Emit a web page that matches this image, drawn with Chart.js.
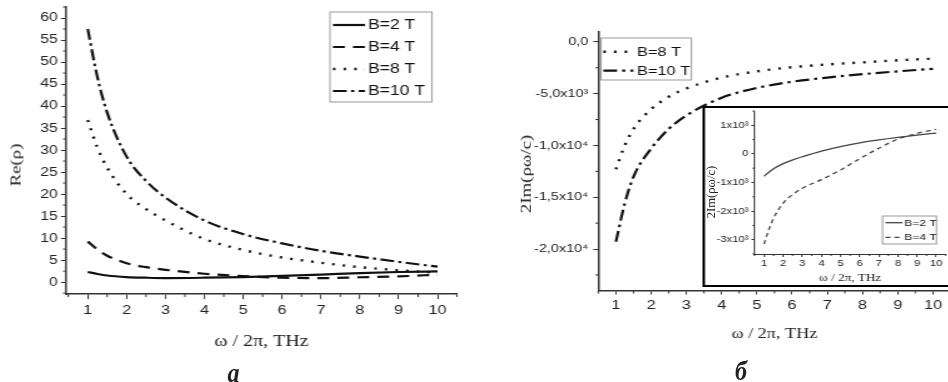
<!DOCTYPE html>
<html>
<head>
<meta charset="utf-8">
<title>Re(ρ), 2Im(ρω/c)</title>
<script src="https://cdn.jsdelivr.net/npm/chart.js@4.4.1/dist/chart.umd.min.js"></script>
<style>
  html, body { margin: 0; padding: 0; background: #fff; overflow: hidden; width: 948px; height: 382px; }
  #wrap { position: absolute; left: 0; top: 0; height: 382px; transform-origin: 0 0; }
  .box { position: absolute; }
  #inset { background: #fff; border: 2px solid #000; box-sizing: border-box; }
  .txt { position: absolute; white-space: nowrap; font-family: "Liberation Serif", "Times New Roman", serif; color: #222; line-height: 1; }
  .cap { font-weight: bold; font-style: italic; font-size: 24px; }
</style>
</head>
<body>
<div id="wrap">
  <div class="box" id="leftBox"><canvas id="leftChart"></canvas></div>
  <div class="box" id="rightBox"><canvas id="rightChart"></canvas></div>
  <div class="box" id="inset"><canvas id="insetChart"></canvas></div>
</div>
<div class="txt" id="yt1">Re(ρ)</div>
<div class="txt" id="yt2">2Im(ρω/c)</div>
<div class="txt" id="yt3">2Im(ρω/c)</div>
<div class="txt cap" id="capA">a</div>
<div class="txt cap" id="capB">б</div>

<script>
// the lettering in the figure is wide, so the charts are drawn narrower and stretched
const S = 1.25;
const X = v => v / S;

const freq = [1, 1.25, 1.5, 2, 2.5, 3, 4, 5, 6, 7, 8, 9, 10];

// panel a: Re(rho)
const reB2  = [2.3, 1.85, 1.5, 1.15, 1.0, 0.92, 1.0, 1.15, 1.4, 1.7, 2.05, 2.3, 2.45];
const reB4  = [9.2, 7.4, 6.0, 4.3, 3.4, 2.8, 1.9, 1.35, 1.0, 0.9, 1.1, 1.3, 1.7];
const reB8  = [36.8, 30.5, 26, 20, 16.6, 14, 9.8, 7.3, 5.6, 4.4, 3.4, 2.7, 2.1];
const reB10 = [57.5, 46.5, 38.5, 28.5, 23, 19.2, 14.0, 10.9, 8.8, 7.1, 5.8, 4.6, 3.5];

// panel b: 2Im(rho*omega/c)
const imB8  = [-12300, -10000, -8400, -6500, -5300, -4500, -3450, -2850, -2450, -2180, -1980, -1780, -1620];
const imB10 = [-19300, -15600, -13000, -10300, -8400, -7100, -5400, -4450, -3850, -3450, -3120, -2850, -2600];

// inset
const inB2 = [-780, -640, -520, -340, -210, -100, 100, 255, 385, 490, 580, 660, 730];
const inB4 = [-3150, -2650, -2250, -1720, -1420, -1200, -900, -560, -170, 200, 520, 720, 860];

// ticks
const xTicks  = [1, 2, 3, 4, 5, 6, 7, 8, 9, 10];
const xLabels = ['1', '2', '3', '4', '5', '6', '7', '8', '9', '10'];
const xMinor  = [0.5, 1.5, 2.5, 3.5, 4.5, 5.5, 6.5, 7.5, 8.5, 9.5, 10.5];
const reTicks  = [0, 5, 10, 15, 20, 25, 30, 35, 40, 45, 50, 55, 60];
const reLabels = ['0', '5', '10', '15', '20', '25', '30', '35', '40', '45', '50', '55', '60'];
const reMinor  = [-2.5, 2.5, 7.5, 12.5, 17.5, 22.5, 27.5, 32.5, 37.5, 42.5, 47.5, 52.5, 57.5, 62.5];
const imTicks  = [0, -5000, -10000, -15000, -20000];
const imLabels = ['0,0', '-5,0x10³', '-1,0x10⁴', '-1,5x10⁴', '-2,0x10⁴'];
const imMinor  = [-2500, -7500, -12500, -17500, -22500];
const inTicks  = [1000, 0, -1000, -2000, -3000];
const inLabels = ['1x10³', '0', '-1x10³', '-2x10³', '-3x10³'];
const inMinor  = [1500, 500, -500, -1500, -2500, -3500];

const xTitle = 'ω / 2π, THz';

// placing boxes (page px -> wrapper px)
function place(id, left, top, width, height) {
    const el = document.getElementById(id);
    el.style.left = X(left) + 'px';
    el.style.top = top + 'px';
    el.style.width = X(width) + 'px';
    el.style.height = height + 'px';
}
const wrap = document.getElementById('wrap');
wrap.style.width = X(960) + 'px';
wrap.style.transform = 'scaleX(' + S + ')';
place('leftBox', 0, 0, 480, 382);
place('rightBox', 480, 0, 472, 382);
place('inset', 703, 106, 250, 181);

function label(id, cx, cy, size, stretch, rotate) {
    const el = document.getElementById(id);
    el.style.left = cx + 'px';
    el.style.top = cy + 'px';
    el.style.fontSize = size + 'px';
    el.style.transform = 'translate(-50%,-50%)' + (rotate ? ' rotate(-90deg)' : '') + ' scale(' + stretch[0] + ',' + stretch[1] + ')';
}
label('yt1', 16, 165, 15, [1.25, 1], true);
label('yt2', 526, 174, 14.5, [1.3, 1], true);
label('yt3', 711.5, 192, 11.5, [1.1, 1], true);
label('capA', 233.5, 373, 24, [1, 1.15], false);
label('capB', 741, 371, 24, [1, 1.15], false);

Chart.defaults.animation = false;
Chart.defaults.font.family = '"Liberation Sans", Arial, sans-serif';
Chart.defaults.color = '#222';

// short ticks between the labelled ones
const minorTicks = {
    id: 'minorTicks',
    afterDraw(chart, args, o) {
        const ctx = chart.ctx;
        const sx = chart.scales.x, sy = chart.scales.y;
        ctx.save();
        ctx.strokeStyle = '#333';
        ctx.lineWidth = 1;
        ctx.beginPath();
        o.x.forEach(v => {
            if (v < sx.min || v > sx.max) return;
            const p = sx.getPixelForValue(v);
            ctx.moveTo(p, sx.top);
            ctx.lineTo(p, sx.top + o.xLen);
        });
        o.y.forEach(v => {
            if (v < sy.min || v > sy.max) return;
            const p = sy.getPixelForValue(v);
            ctx.moveTo(sy.right, p);
            ctx.lineTo(sy.right - X(o.yLen), p);
        });
        ctx.stroke();
        ctx.restore();
    }
};

// framed legend at a fixed spot (page px relative to the canvas)
const boxLegend = {
    id: 'boxLegend',
    afterDraw(chart, args, o) {
        const ctx = chart.ctx;
        ctx.save();
        ctx.fillStyle = '#fff';
        ctx.fillRect(X(o.box[0]), o.box[1], X(o.box[2] - o.box[0]), o.box[3] - o.box[1]);
        ctx.strokeStyle = o.border;
        ctx.lineWidth = 1;
        ctx.strokeRect(X(o.box[0]), o.box[1], X(o.box[2] - o.box[0]), o.box[3] - o.box[1]);
        chart.data.datasets.forEach((ds, i) => {
            const y = o.rows[i];
            ctx.strokeStyle = ds.borderColor;
            ctx.lineWidth = ds.borderWidth;
            ctx.setLineDash(ds.borderDash || []);
            ctx.beginPath();
            ctx.moveTo(X(o.line[0]), y);
            ctx.lineTo(X(o.line[1]), y);
            ctx.stroke();
            ctx.setLineDash([]);
            ctx.fillStyle = '#111';
            ctx.font = o.size + 'px "Liberation Sans", Arial, sans-serif';
            ctx.textBaseline = 'middle';
            ctx.fillText(ds.label, X(o.text), y + 0.5);
        });
        ctx.restore();
    }
};

function axis(o) {
    return {
        type: 'linear',
        min: o.min,
        max: o.max,
        grid: { display: true, drawOnChartArea: false, drawTicks: true, tickLength: o.tl, color: '#333', lineWidth: 1 },
        border: { display: true, color: '#333', width: o.bw || 1.5 },
        ticks: {
            autoSkip: false, maxRotation: 0, padding: o.pad, color: '#222',
            font: { size: o.size },
            callback: (v, i) => o.labels[i]
        },
        title: o.title || { display: false },
        afterBuildTicks: s => { s.ticks = o.ticks.map(v => ({ value: v })); },
        afterFit: s => {
            if (s.isHorizontal()) s.height = o.fit; else s.width = X(o.fit);
            s.paddingTop = s.paddingBottom = s.paddingLeft = s.paddingRight = 0;
        }
    };
}

function line(lbl, ys, dash, width, color) {
    return {
        label: lbl,
        data: freq.map((f, i) => ({ x: f, y: ys[i] })),
        borderColor: color || '#111',
        borderWidth: width,
        borderDash: dash,
        pointRadius: 0,
        fill: false,
        cubicInterpolationMode: 'monotone'
    };
}

// panel a
new Chart(document.getElementById('leftChart'), {
    type: 'line',
    data: {
        datasets: [
            line('B=2 T', reB2, [], 2.2),
            line('B=4 T', reB4, [9.5, 6.5], 2.2),
            line('B=8 T', reB8, [2, 6.5], 2.4),
            line('B=10 T', reB10, [11, 3.5, 2.5, 3.5], 2.2)
        ]
    },
    options: {
        responsive: true,
        maintainAspectRatio: false,
        layout: { autoPadding: false, padding: { left: 0, top: 7, right: X(23), bottom: 0 } },
        scales: {
            x: axis({ min: 0.44, max: 10.5, ticks: xTicks, labels: xLabels, tl: 5, pad: 3.5, size: 13, fit: 88,
                title: { display: true, text: xTitle, color: '#222', font: { family: '"Liberation Serif", serif', size: 16 }, padding: { top: 0, bottom: 30.4 } } }),
            y: axis({ min: -2.7, max: 62.5, ticks: reTicks, labels: reLabels, tl: X(5), pad: 2.6, size: 12.5, fit: 66 })
        },
        plugins: {
            legend: { display: false },
            tooltip: { enabled: false },
            minorTicks: { x: xMinor, y: reMinor, xLen: 3, yLen: 3 },
            boxLegend: { box: [330, 12, 432, 102], line: [333, 365], text: 368, rows: [25, 47, 69, 91], size: 14, border: '#999' }
        }
    },
    plugins: [minorTicks, boxLegend]
});

// panel b
new Chart(document.getElementById('rightChart'), {
    type: 'line',
    data: {
        datasets: [
            line('B=8 T', imB8, [2, 6.5], 2.4),
            line('B=10 T', imB10, [11, 4, 2.5, 4], 2.2)
        ]
    },
    options: {
        responsive: true,
        maintainAspectRatio: false,
        layout: { autoPadding: false, padding: { left: 0, top: 31.5, right: X(2.7), bottom: 0 } },
        scales: {
            x: axis({ min: 0.5, max: 10.5, ticks: xTicks, labels: xLabels, tl: 4, pad: 3, size: 13, fit: 91.5,
                title: { display: true, text: xTitle, color: '#222', font: { family: '"Liberation Serif", serif', size: 14.5 }, padding: { top: 0, bottom: 39.3 } } }),
            y: axis({ min: -24000, max: 1000, ticks: imTicks, labels: imLabels, tl: X(5), pad: 4, size: 11.5, fit: 118 })
        },
        plugins: {
            legend: { display: false },
            tooltip: { enabled: false },
            minorTicks: { x: xMinor, y: imMinor, xLen: 3, yLen: 3 },
            boxLegend: { box: [120.7, 38, 210.7, 80], line: [123, 153], text: 156.7, rows: [51.7, 70.7], size: 13, border: '#999' }
        }
    },
    plugins: [minorTicks, boxLegend]
});

// inset of panel b
new Chart(document.getElementById('insetChart'), {
    type: 'line',
    data: {
        datasets: [
            line('B=2 T', inB2, [], 1.3, '#444'),
            line('B=4 T', inB4, [4, 3.2], 1.3, '#444')
        ]
    },
    options: {
        responsive: true,
        maintainAspectRatio: false,
        layout: { autoPadding: false, padding: { left: 0, top: 3, right: 3.36, bottom: 0 } },
        scales: {
            x: axis({ min: 0.5, max: 10.5, ticks: xTicks, labels: xLabels, tl: 3, pad: 1.5, size: 9, fit: 31, bw: 1,
                title: { display: true, text: xTitle, color: '#222', font: { family: '"Liberation Serif", serif', size: 10.5 }, padding: { top: 0, bottom: 0 } } }),
            y: axis({ min: -3500, max: 1500, ticks: inTicks, labels: inLabels, tl: X(3), pad: 2.5, size: 9, fit: 49.5, bw: 1 })
        },
        plugins: {
            legend: { display: false },
            tooltip: { enabled: false },
            minorTicks: { x: xMinor, y: inMinor, xLen: 2, yLen: 2 },
            boxLegend: { box: [177.5, 108, 231.5, 136], line: [180.5, 197.5], text: 199.5, rows: [114.7, 129.3], size: 9.5, border: '#999' }
        }
    },
    plugins: [minorTicks, boxLegend]
});
</script>
</body>
</html>
